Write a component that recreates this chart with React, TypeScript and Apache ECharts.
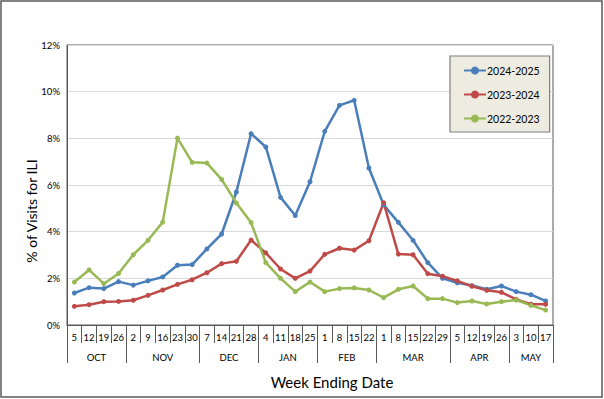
import React, { useEffect, useRef } from "react";
import * as echarts from "echarts";

const months = ["OCT", "NOV", "DEC", "JAN", "FEB", "MAR", "APR", "MAY"];
const weekDays = [
  [5, 12, 19, 26],
  [2, 9, 16, 23, 30],
  [7, 14, 21, 28],
  [4, 11, 18, 25],
  [1, 8, 15, 22],
  [1, 8, 15, 22, 29],
  [5, 12, 19, 26],
  [3, 10, 17],
];
const seriesNames = ["2024-2025", "2023-2024", "2022-2023"];
const s2425 = [
  1.37, 1.6, 1.56, 1.86, 1.71, 1.89, 2.06, 2.56, 2.59, 3.26, 3.9, 5.7, 8.2,
  7.63, 5.47, 4.69, 6.14, 8.3, 9.41, 9.63, 6.73, 5.15, 4.4, 3.63, 2.67, 2.0,
  1.81, 1.69, 1.53, 1.67, 1.43, 1.3, 1.03,
];
const s2324 = [
  0.8, 0.87, 1.0, 1.01, 1.06, 1.27, 1.5, 1.74, 1.94, 2.24, 2.63, 2.73, 3.64,
  3.09, 2.4, 2.0, 2.31, 3.03, 3.29, 3.21, 3.61, 5.24, 3.04, 3.01, 2.2, 2.09,
  1.89, 1.66, 1.49, 1.4, 1.1, 0.89, 0.89,
];
const s2223 = [
  1.84, 2.36, 1.77, 2.21, 3.01, 3.63, 4.41, 8.01, 6.97, 6.94, 6.24, 5.23, 4.39,
  2.67, 2.0, 1.43, 1.84, 1.43, 1.56, 1.59, 1.5, 1.17, 1.53, 1.67, 1.13, 1.13,
  0.96, 1.03, 0.9, 1.0, 1.07, 0.84, 0.64,
];
const yTicks = [0, 2, 4, 6, 8, 10, 12];
const colors = ["#4a7ebb", "#be4b48", "#98b954"];

export default function App() {
  const ref = useRef<HTMLDivElement>(null);
  useEffect(() => {
    if (!ref.current) return;
    const chart = echarts.init(ref.current, null, { renderer: "svg" });
    const font = "Lato";

    const weekLabels: string[] = [];
    weekDays.forEach((arr) => arr.forEach((d) => weekLabels.push(String(d))));
    const n = weekLabels.length;

    // half-week grid for month axis (boundaryGap false): 2n+1 positions
    const monthAxisData: string[] = new Array(2 * n + 1).fill("");
    const boundaries = new Set<number>();
    let start = 0;
    boundaries.add(0);
    weekDays.forEach((arr, i) => {
      const end = start + arr.length;
      monthAxisData[start + end] = months[i];
      boundaries.add(2 * end);
      start = end;
    });

    const dataSets = [s2425, s2324, s2223];

    chart.setOption({
      animation: false,
      textStyle: { fontFamily: font },
      grid: {
        left: 67,
        right: 51,
        top: 45,
        bottom: 74,
        show: true,
        borderColor: "#595959",
        borderWidth: 1,
      },
      legend: {
        orient: "vertical",
        left: 450,
        top: 56,
        padding: [9, 10, 8, 13],
        itemGap: 13,
        itemWidth: 22,
        itemHeight: 10,
        backgroundColor: "#eeece1",
        borderColor: "#7f7f7f",
        borderWidth: 1.2,
        borderRadius: 0,
        textStyle: { fontFamily: font, fontSize: 10.5, color: "#000", padding: [0, 0, 0, -4] },
        data: seriesNames,
      },
      xAxis: [
        {
          type: "category",
          data: weekLabels,
          boundaryGap: true,
          axisLine: { show: true, lineStyle: { color: "#595959", width: 1 } },
          axisTick: {
            show: true,
            interval: 0,
            length: 18,
            lineStyle: { color: "#595959", width: 1 },
          },
          axisLabel: {
            interval: 0,
            margin: 7,
            fontSize: 9.5,
            color: "#000",
            fontFamily: font,
          },
        },
        {
          type: "category",
          data: monthAxisData,
          boundaryGap: false,
          position: "bottom",
          axisLine: { show: false },
          axisTick: {
            show: true,
            interval: (idx: number) => boundaries.has(idx),
            length: 38,
            lineStyle: { color: "#595959", width: 1 },
          },
          axisLabel: {
            interval: 0,
            margin: 27,
            fontSize: 9.5,
            color: "#000",
            fontFamily: font,
          },
          splitLine: { show: false },
        },
      ],
      yAxis: {
        type: "value",
        min: yTicks[0],
        max: yTicks[yTicks.length - 1],
        interval: 2,
        axisLine: { show: true, lineStyle: { color: "#595959", width: 1 } },
        axisTick: { show: false },
        axisLabel: {
          formatter: "{value}%",
          fontSize: 9.5,
          color: "#000",
          margin: 7,
          fontFamily: font,
        },
        splitLine: { lineStyle: { color: "#d9d9d9", width: 1 } },
      },
      graphic: [
        {
          type: "rect",
          shape: { x: 1, y: 1, width: 601, height: 396 },
          style: { fill: "none", stroke: "#595959", lineWidth: 1.5 },
          silent: true,
        },
        {
          type: "text",
          x: 332,
          y: 382,
          style: {
            text: "Week Ending Date",
            fontFamily: font,
            fontSize: 15,
            fill: "#000",
            textAlign: "center",
            textVerticalAlign: "middle",
          },
        },
        {
          type: "text",
          x: 31,
          y: 211,
          rotation: Math.PI / 2,
          style: {
            text: "% of Visits for ILI",
            fontFamily: font,
            fontSize: 14,
            fill: "#000",
            textAlign: "center",
            textVerticalAlign: "middle",
          },
        },
      ],
      series: seriesNames.map((name, i) => ({
        name,
        type: "line",
        xAxisIndex: 0,
        data: dataSets[i],
        symbol: "circle",
        symbolSize: 5,
        color: colors[i],
        lineStyle: { width: 2.5, color: colors[i] },
        itemStyle: { color: colors[i] },
      })),
    });
    return () => chart.dispose();
  }, []);
  return (
    <div
      ref={ref}
      style={{ position: "fixed", left: 0, top: 0, width: 604, height: 399, background: "#fff" }}
    />
  );
}
